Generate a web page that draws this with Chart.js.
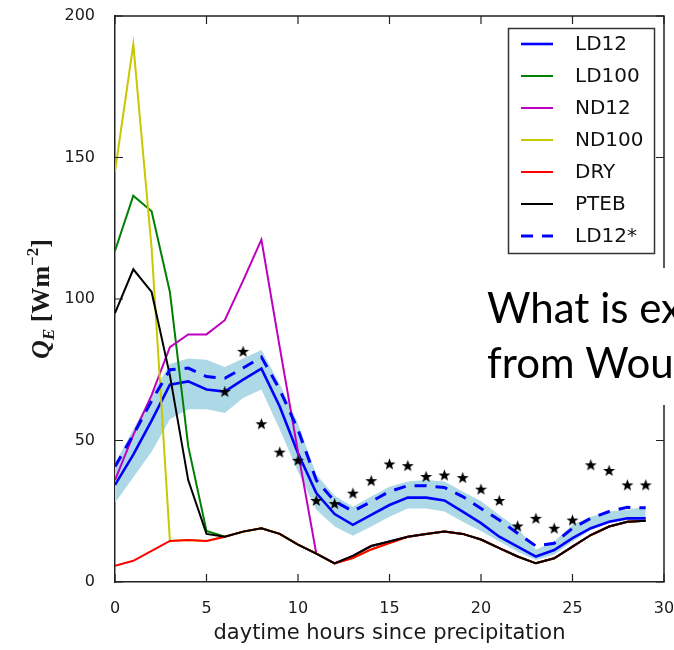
<!DOCTYPE html>
<html>
<head>
<meta charset="utf-8">
<script src="https://cdn.jsdelivr.net/npm/chart.js@4.4.0/dist/chart.umd.min.js"></script>
<style>
    html, body { margin: 0; padding: 0; background: #fff; }
    #wrap { width: 674px; height: 650px; }
</style>
</head>
<body>
<div id="wrap"><canvas id="myChart" width="674" height="650"></canvas></div>
<script>
const hours = [0, 1, 2, 3, 4, 5, 6, 7, 8, 9, 10, 11, 12, 13, 14, 15, 16, 17, 18, 19, 20, 21, 22, 23, 24, 25, 26, 27, 28, 29];

const ld12 = [34.3, 45, 57, 69.7, 70.9, 68, 67.3, 71.5, 75.4, 62, 45.5, 31.4, 24, 20.2, 23.7, 27.2, 29.8, 29.8, 28.8, 24.9, 20.8, 16, 12.5, 9, 11.3, 15.5, 19, 21.3, 22.5, 22.5];
const ld100 = [117, 136.5, 131, 102.5, 48, 18, 16, 17.8, 19, 17, 13.2, 10, 6.6, 9.2, 12.7, 14.3, 16, 17, 17.8, 17, 15, 12, 9, 6.6, 8.4, 12.5, 16.6, 19.6, 21.3, 21.6];
const nd12 = [36, 52, 66, 83, 87.5, 87.5, 92.5, 106.5, 121, 83, 46, 10, 6.6, 9.2, 12.7, 14.3, 16, 17, 17.8, 17, 15, 12, 9, 6.6, 8.4, 12.5, 16.6, 19.6, 21.3, 21.6];
const nd100 = [145, 190, 118, 14.5, 14.8, 14.5, 16, 17.8, 19, 17, 13.2, 10, 6.6, 8.5, 11.5, 13.8, 16, 17, 17.8, 17, 15, 12, 9, 6.6, 8.4, 12.5, 16.6, 19.6, 21.3, 21.6];
const dry = [5.7, 7.5, 11, 14.5, 14.8, 14.5, 16, 17.8, 19, 17, 13.2, 10, 6.6, 8.5, 11.5, 13.8, 16, 17, 17.8, 17, 15, 12, 9, 6.6, 8.4, 12.5, 16.6, 19.6, 21.3, 21.6];
const pteb = [95, 110.5, 102.5, 73, 36, 17, 16, 17.8, 19, 17, 13.2, 10, 6.6, 9.2, 12.7, 14.3, 16, 17, 17.8, 17, 15, 12, 9, 6.6, 8.4, 12.5, 16.6, 19.6, 21.3, 21.6];
const ld12star = [40.8, 52, 64, 75, 75.6, 72.6, 72, 75.6, 79.5, 68, 53.8, 36, 28.5, 25, 28.4, 32, 34, 34, 33.4, 30.2, 26, 21.9, 17.2, 12.7, 13.7, 19, 22.5, 24.9, 26.4, 26.2];

// LD12 spread (shaded band)
const bandLow = [28, 37, 46, 57.5, 61, 61, 59.7, 65, 68, 54, 39, 25.5, 19.6, 16.3, 19.6, 23.1, 26, 26, 24.9, 21.3, 18, 14.3, 10.7, 7.8, 9.6, 14.3, 18.4, 20.8, 21.9, 21.9];
const bandHigh = [42, 54, 66, 77, 79, 78.5, 76, 79, 82, 70, 56, 38, 30.5, 26.6, 30.2, 33.7, 35.5, 36, 35.5, 32, 28.5, 23.7, 19, 11.5, 14.3, 20.2, 23.1, 24.9, 25.5, 26.6];

// observations (stars)
const obsHours = [6, 7, 8, 9, 10, 11, 12, 13, 14, 15, 16, 17, 18, 19, 20, 21, 22, 23, 24, 25, 26, 27, 28, 29];
const obsValues = [67.3, 81.5, 55.9, 45.9, 43, 28.8, 27.7, 31.4, 35.8, 41.7, 41.1, 37.3, 37.8, 36.9, 32.8, 28.8, 19.8, 22.5, 19, 21.9, 41.4, 39.4, 34.3, 34.3];

const xTicks = [0, 5, 10, 15, 20, 25, 30];
const yTicks = [0, 50, 100, 150, 200];

const toPoints = (xs, ys) => xs.map((x, i) => ({ x: x, y: ys[i] }));

// filled five pointed star for the observation markers
const starImg = document.createElement('canvas');
starImg.width = 13;
starImg.height = 13;
(() => {
    const c = starImg.getContext('2d');
    c.beginPath();
    for (let i = 0; i < 10; i++) {
        const r = i % 2 === 0 ? 6.3 : 2.6;
        const a = -Math.PI / 2 + i * Math.PI / 5;
        const px = 6.5 + r * Math.cos(a);
        const py = 7 + r * Math.sin(a);
        if (i === 0) c.moveTo(px, py); else c.lineTo(px, py);
    }
    c.closePath();
    c.fillStyle = '#000';
    c.fill();
})();

const lineSet = (label, data, color, width, order, dash) => ({
    label: label,
    data: toPoints(hours, data),
    borderColor: color,
    backgroundColor: color,
    borderWidth: width,
    borderDash: dash || [],
    pointRadius: 0,
    tension: 0,
    fill: false,
    order: order,
    inLegend: true
});

const framePlugin = {
    id: 'frame',
    afterDraw(chart) {
        const ctx = chart.ctx;
        const a = chart.chartArea;
        const xs = chart.scales.x;
        const ys = chart.scales.y;
        ctx.save();

        // top and right spines
        ctx.strokeStyle = '#222';
        ctx.lineWidth = 1.5;
        ctx.beginPath();
        ctx.moveTo(a.left, a.top);
        ctx.lineTo(a.right, a.top);
        ctx.lineTo(a.right, a.bottom);
        ctx.stroke();

        // inward ticks on all sides
        ctx.lineWidth = 1.2;
        ctx.beginPath();
        xTicks.forEach(v => {
            const px = xs.getPixelForValue(v);
            ctx.moveTo(px, a.bottom); ctx.lineTo(px, a.bottom - 8);
            ctx.moveTo(px, a.top); ctx.lineTo(px, a.top + 8);
        });
        yTicks.forEach(v => {
            const py = ys.getPixelForValue(v);
            ctx.moveTo(a.left, py); ctx.lineTo(a.left + 8, py);
            ctx.moveTo(a.right, py); ctx.lineTo(a.right - 8, py);
        });
        ctx.stroke();

        // legend
        const lx = 508.5, ly = 28.5, lw = 146, lh = 225;
        ctx.fillStyle = '#fff';
        ctx.fillRect(lx, ly, lw, lh);
        ctx.strokeStyle = '#333';
        ctx.lineWidth = 1.5;
        ctx.strokeRect(lx, ly, lw, lh);
        const items = chart.data.datasets.filter(d => d.inLegend);
        items.forEach((d, i) => {
            const yy = 44 + i * 32;
            ctx.strokeStyle = d.borderColor;
            ctx.lineWidth = d.borderWidth;
            ctx.setLineDash(d.borderDash);
            ctx.beginPath();
            ctx.moveTo(521, yy);
            ctx.lineTo(553, yy);
            ctx.stroke();
            ctx.setLineDash([]);
            ctx.fillStyle = '#111';
            ctx.font = '20px "DejaVu Sans"';
            ctx.textAlign = 'left';
            ctx.textBaseline = 'middle';
            ctx.fillText(d.label, 575, yy + 1);
        });

        // slide text lying over the plot
        ctx.fillStyle = '#fff';
        ctx.fillRect(470, 268, 204, 137);
        ctx.fillStyle = '#000';
        ctx.font = '42px Lato';
        ctx.textAlign = 'left';
        ctx.textBaseline = 'alphabetic';
        ctx.fillText('What is ex', 487, 323);
        ctx.fillText('from Wou', 487, 378);

        // x title
        ctx.fillStyle = '#1a1a1a';
        ctx.font = '21px "DejaVu Sans"';
        ctx.textAlign = 'center';
        ctx.textBaseline = 'middle';
        ctx.fillText('daytime hours since precipitation', (a.left + a.right) / 2, 634);

        // y title: Q_E [W m^-2]
        const parts = [
            { t: 'Q', f: 'italic bold 26px "Liberation Serif"', dy: 0 },
            { t: 'E', f: 'italic bold 17px "Liberation Serif"', dy: 5 },
            { t: ' [Wm', f: 'bold 26px "Liberation Serif"', dy: 0 },
            { t: '\u22122', f: 'bold 17px "Liberation Serif"', dy: -11 },
            { t: ']', f: 'bold 26px "Liberation Serif"', dy: 0 }
        ];
        ctx.translate(40, (a.top + a.bottom) / 2);
        ctx.rotate(-Math.PI / 2);
        ctx.textAlign = 'left';
        ctx.textBaseline = 'alphabetic';
        let total = 0;
        parts.forEach(p => { ctx.font = p.f; p.w = ctx.measureText(p.t).width; total += p.w; });
        let cx = -total / 2;
        parts.forEach(p => {
            ctx.font = p.f;
            ctx.fillText(p.t, cx, 9 + p.dy);
            cx += p.w;
        });
        ctx.restore();
    }
};

const ctx = document.getElementById('myChart');
new Chart(ctx, {
    type: 'line',
    data: {
        datasets: [
            lineSet('LD12', ld12, '#0000ff', 2.6, 7),
            lineSet('LD100', ld100, '#008000', 2, 6),
            lineSet('ND12', nd12, '#bf00bf', 2, 5),
            lineSet('ND100', nd100, '#c8c800', 2, 4),
            lineSet('DRY', dry, '#ff0000', 2, 3),
            lineSet('PTEB', pteb, '#000000', 2, 2),
            lineSet('LD12*', ld12star, '#0000ff', 3, 1, [12, 9]),
            {
                label: 'obs',
                data: toPoints(obsHours, obsValues),
                showLine: false,
                pointStyle: starImg,
                pointRadius: 6,
                order: 0
            },
            {
                label: 'band low',
                data: toPoints(hours, bandLow),
                borderWidth: 0,
                borderColor: 'rgba(0,0,0,0)',
                pointRadius: 0,
                tension: 0,
                fill: false,
                order: 9
            },
            {
                label: 'band high',
                data: toPoints(hours, bandHigh),
                borderWidth: 0,
                borderColor: 'rgba(0,0,0,0)',
                backgroundColor: '#add8e6',
                pointRadius: 0,
                tension: 0,
                fill: '-1',
                order: 8
            }
        ]
    },
    options: {
        responsive: false,
        animation: false,
        layout: { padding: { top: 16, right: 10, left: 0, bottom: 0 } },
        plugins: {
            legend: { display: false },
            tooltip: { enabled: false }
        },
        scales: {
            x: {
                type: 'linear',
                min: 0,
                max: 30,
                grid: { display: false },
                border: { display: true, color: '#222', width: 1.5 },
                ticks: {
                    stepSize: 5,
                    color: '#1a1a1a',
                    font: { family: 'DejaVu Sans', size: 16 },
                    padding: 9,
                    maxRotation: 0
                },
                afterFit(scale) {
                    scale.height = 68;
                    scale.paddingLeft = 0;
                    scale.paddingRight = 0;
                }
            },
            y: {
                min: 0,
                max: 200,
                grid: { display: false },
                border: { display: true, color: '#222', width: 1.5 },
                ticks: {
                    stepSize: 50,
                    color: '#1a1a1a',
                    font: { family: 'DejaVu Sans', size: 16 },
                    padding: 12
                },
                afterFit(scale) {
                    scale.width = 115;
                    scale.paddingTop = 0;
                    scale.paddingBottom = 0;
                }
            }
        }
    },
    plugins: [framePlugin]
});
</script>
</body>
</html>
